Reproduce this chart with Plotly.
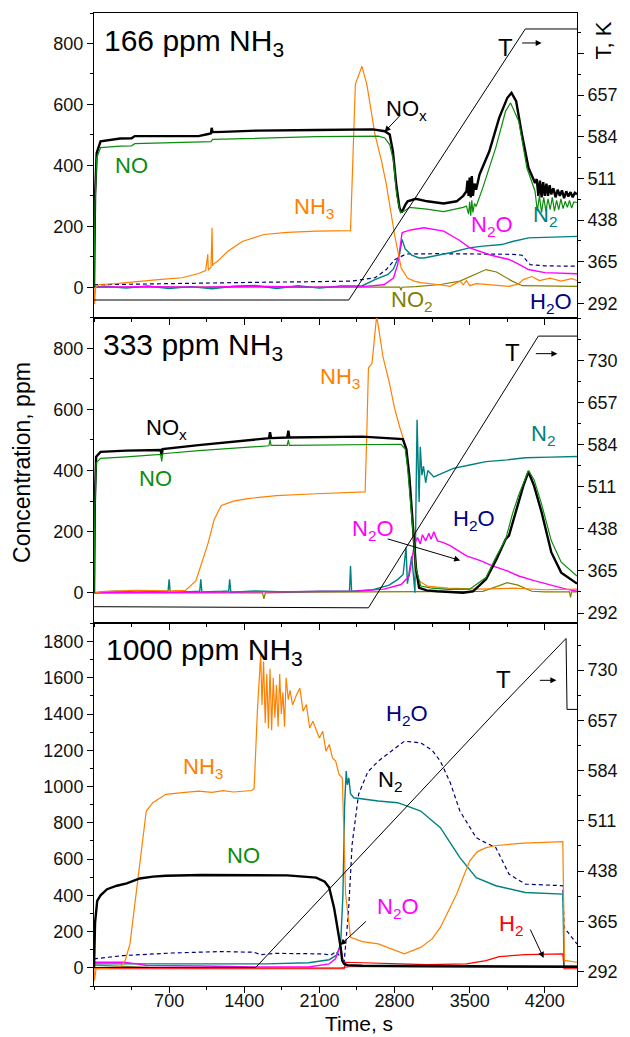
import plotly.graph_objects as go

# ---------------- DATA ----------------
# Panel 1: 166 ppm NH3
T1_t = [0, 2374, 4018, 4500]
T1_v = [298, 298, 773, 773]
NOX1_t = [0, 10, 25, 61, 244, 350, 380, 974, 1065, 1090, 1096, 1105, 1200, 1522, 2070, 2600, 2709, 2755, 2785, 2816, 2846, 2867, 2900, 2922, 2998, 3105, 3257, 3379, 3440, 3470, 3480, 3490, 3500, 3510, 3520, 3530, 3545, 3560, 3592, 3683, 3775, 3850, 3890, 3933, 3987, 4048, 4109, 4125, 4140, 4155, 4170, 4185, 4200, 4215, 4230, 4245, 4260, 4280, 4300, 4320, 4340, 4360, 4380, 4400, 4420, 4440, 4460, 4480, 4500]
NOX1_v = [0, 300, 441, 479, 488, 489, 496, 496, 503, 505, 523, 509, 510, 514, 516, 518, 512, 501, 446, 337, 260, 245, 270, 282, 290, 282, 275, 282, 300, 315, 350, 300, 360, 295, 365, 300, 340, 320, 370, 446, 556, 621, 638, 611, 501, 392, 342, 355, 300, 350, 295, 345, 300, 340, 300, 335, 305, 325, 295, 320, 300, 318, 292, 315, 298, 312, 295, 310, 305]
NO1_t = [0, 10, 25, 61, 244, 350, 380, 974, 1090, 1105, 1583, 2070, 2650, 2709, 2755, 2791, 2820, 2855, 2900, 2937, 3100, 3257, 3440, 3470, 3490, 3500, 3510, 3520, 3530, 3545, 3560, 3622, 3744, 3835, 3881, 3957, 4033, 4109, 4130, 4150, 4170, 4190, 4210, 4230, 4250, 4270, 4290, 4310, 4330, 4350, 4370, 4390, 4410, 4430, 4450, 4470, 4500]
NO1_v = [0, 280, 425, 458, 463, 464, 471, 476, 478, 485, 490, 494, 496, 490, 468, 414, 302, 244, 252, 262, 256, 248, 262, 266, 240, 280, 235, 285, 245, 275, 265, 326, 459, 578, 605, 545, 392, 315, 250, 300, 245, 295, 250, 290, 255, 295, 250, 285, 255, 290, 258, 282, 262, 285, 260, 280, 278]
NH31_t = [0, 5, 15, 50, 200, 426, 600, 822, 974, 1040, 1060, 1065, 1070, 1090, 1100, 1105, 1110, 1150, 1248, 1380, 1583, 1800, 2070, 2390, 2410, 2435, 2496, 2542, 2618, 2679, 2724, 2800, 2862, 2920, 2983, 3044, 3200, 3318, 3410, 3440, 3470, 3500, 3560, 3700, 3800, 3866, 3950, 4000, 4079, 4150, 4250, 4350, 4450, 4500]
NH31_v = [0, -56, 0, 9, 12, 20, 25, 31, 45, 55, 108, 55, 60, 65, 195, 70, 75, 85, 118, 150, 173, 180, 184, 186, 400, 666, 725, 666, 501, 414, 337, 173, 63, 30, 20, 15, 9, 3, 20, 8, 22, 5, 12, 8, 5, 3, 10, 25, 35, 22, 30, 20, 28, 22]
N2O1_t = [0, 500, 1000, 1500, 2000, 2500, 2700, 2790, 2830, 2852, 2870, 2877, 2950, 3074, 3259, 3400, 3501, 3700, 3866, 3960, 4048, 4200, 4500]
N2O1_v = [0, 2, 0, 3, 0, 2, 8, 30, 75, 140, 178, 180, 188, 195, 184, 155, 129, 105, 91, 75, 58, 48, 44]
N21_t = [0, 100, 300, 500, 700, 900, 1100, 1300, 1500, 1700, 1900, 2100, 2300, 2500, 2618, 2700, 2739, 2790, 2846, 2870, 2900, 2960, 3029, 3074, 3200, 3318, 3496, 3622, 3800, 3900, 4048, 4300, 4500]
N21_v = [0, 3, -3, 4, -4, 2, -5, 3, 6, -4, 5, -3, 4, 5, 25, 35, 42, 60, 107, 157, 125, 105, 96, 96, 105, 113, 129, 135, 140, 150, 162, 165, 167]
H2O1_t = [0, 300, 700, 1000, 1500, 2000, 2400, 2618, 2724, 2800, 2907, 3200, 3600, 3900, 3987, 4063, 4200, 4500]
H2O1_v = [8, 10, 12, 15, 16, 18, 20, 31, 58, 90, 109, 110, 109, 108, 105, 74, 70, 69]
NO21_t = [0, 2850, 2860, 2870, 3000, 3227, 3409, 3560, 3652, 3750, 3896, 3990, 4500]
NO21_v = [0, 0, -10, 0, 2, 9, 20, 45, 58, 50, 20, 5, 3]

# Panel 2: 333 ppm NH3
T2_t = [0, 2557, 4140, 4500]
T2_v = [303, 301, 773, 773]
NOX2_t = [0, 8, 20, 61, 300, 620, 631, 640, 974, 1583, 1630, 1640, 1650, 1800, 1811, 1820, 2070, 2500, 2877, 2910, 2937, 2967, 3000, 3029, 3100, 3196, 3300, 3439, 3531, 3652, 3750, 3800, 3835, 3866, 3957, 4000, 4048, 4100, 4170, 4200, 4261, 4353, 4500]
NOX2_v = [0, 300, 445, 461, 465, 467, 450, 470, 483, 505, 506, 525, 506, 508, 530, 508, 510, 511, 503, 470, 385, 242, 80, 16, 8, 5, 3, 0, 5, 44, 110, 150, 175, 187, 297, 350, 396, 350, 264, 220, 132, 66, 30]
NO2p_t = [0, 8, 20, 61, 300, 620, 631, 640, 974, 1583, 1630, 1640, 1650, 1800, 1811, 1820, 2000, 2500, 2860, 2900, 2922, 2960, 3000, 3044, 3150, 3300, 3500, 3652, 3750, 3835, 3900, 3957, 4048, 4100, 4170, 4261, 4353, 4500]
NO2p_v = [0, 280, 425, 440, 445, 453, 430, 455, 465, 480, 481, 500, 482, 482, 500, 482, 483, 484, 486, 470, 407, 250, 80, 22, 15, 11, 12, 50, 120, 175, 260, 320, 400, 370, 290, 170, 100, 55]
NH32_t = [0, 100, 400, 700, 853, 950, 1065, 1120, 1187, 1300, 1431, 1700, 2070, 2300, 2526, 2540, 2557, 2590, 2620, 2633, 2650, 2694, 2750, 2800, 2850, 2892, 2937, 2970, 2998, 3044, 3105, 3300, 3600, 3900, 4200, 4500]
NH32_v = [0, 5, 8, 6, 8, 40, 165, 240, 286, 300, 308, 318, 324, 328, 330, 500, 736, 750, 850, 905, 870, 769, 690, 604, 540, 494, 384, 200, 55, 35, 22, 15, 12, 15, 10, 12]
N22_t = [0, 200, 400, 600, 690, 700, 710, 900, 985, 995, 1005, 1200, 1255, 1264, 1275, 1500, 1800, 2100, 2380, 2390, 2400, 2600, 2750, 2831, 2880, 2907, 2920, 2960, 2990, 2998, 3010, 3029, 3040, 3055, 3070, 3090, 3110, 3166, 3348, 3500, 3652, 3850, 4018, 4250, 4500]
N22_v = [0, 5, 3, 6, 5, 44, 2, 4, 5, 44, 3, 5, 6, 44, 2, 6, 3, 5, 5, 88, 5, 10, 25, 44, 60, 148, 30, 120, 0, 250, 566, 297, 478, 385, 414, 360, 400, 379, 407, 418, 429, 435, 442, 444, 446]
N2O2_t = [0, 1000, 2000, 2435, 2700, 2862, 2937, 2983, 3000, 3014, 3040, 3060, 3090, 3120, 3140, 3166, 3200, 3250, 3318, 3400, 3470, 3600, 3713, 3850, 3957, 4100, 4231, 4400, 4500]
N2O2_v = [0, 2, 3, 5, 12, 27, 55, 154, 170, 181, 160, 190, 170, 195, 175, 200, 170, 165, 154, 135, 121, 105, 88, 72, 55, 40, 27, 12, 5]
NO22_t = [0, 1570, 1583, 1596, 2000, 3000, 3400, 3622, 3750, 3850, 3950, 4079, 4200, 4430, 4440, 4450, 4500]
NO22_v = [0, 0, -20, 0, 2, 3, 4, 5, 20, 33, 25, 5, 3, 3, -15, 3, 3]

# Panel 3: 1000 ppm NH3
T3_t = [0, 1507, 3775, 4398, 4407, 4500]
T3_v = [298, 298, 675, 776, 673, 673]
NOX3_t = [0, 10, 30, 61, 122, 213, 305, 426, 550, 670, 1000, 1430, 1800, 2070, 2150, 2191, 2237, 2260, 2283, 2298, 2313, 2329, 2360, 2500, 3000, 3500, 4000, 4500]
NOX3_v = [0, 250, 370, 400, 434, 453, 466, 493, 503, 508, 512, 513, 510, 498, 475, 443, 330, 250, 170, 113, 40, 22, 15, 12, 10, 8, 7, 6]
NH33_t = [0, 5, 20, 100, 244, 290, 335, 370, 411, 450, 487, 548, 670, 800, 974, 1100, 1200, 1300, 1431, 1470, 1492, 1522, 1553, 1565, 1580, 1595, 1610, 1625, 1640, 1655, 1670, 1685, 1700, 1715, 1730, 1745, 1760, 1775, 1790, 1810, 1826, 1850, 1887, 1918, 1948, 1979, 2009, 2039, 2100, 2131, 2161, 2192, 2222, 2252, 2283, 2313, 2330, 2344, 2390, 2500, 2648, 2800, 2892, 3044, 3150, 3227, 3300, 3379, 3440, 3501, 3570, 3653, 3750, 3866, 4000, 4200, 4368, 4383, 4400, 4500]
NH33_v = [0, -70, 0, -3, 5, 40, 132, 300, 498, 700, 865, 911, 957, 965, 975, 968, 978, 970, 975, 978, 990, 1415, 1727, 1450, 1690, 1350, 1620, 1320, 1650, 1310, 1600, 1380, 1560, 1330, 1620, 1400, 1520, 1330, 1600, 1480, 1530, 1450, 1507, 1543, 1415, 1452, 1323, 1360, 1268, 1305, 1195, 1232, 1158, 1140, 1067, 1048, 700, 407, 168, 145, 132, 95, 77, 113, 160, 223, 310, 407, 500, 590, 640, 663, 675, 682, 688, 692, 696, 40, 40, 31]
N23_t = [0, 500, 1000, 1492, 1600, 2000, 2191, 2260, 2298, 2319, 2335, 2350, 2360, 2374, 2390, 2420, 2648, 2830, 3044, 3227, 3409, 3561, 3744, 4018, 4368, 4380, 4500]
N23_v = [22, 22, 20, 18, 22, 28, 45, 70, 132, 400, 900, 1085, 1010, 1048, 960, 938, 920, 911, 865, 773, 608, 498, 453, 416, 407, 8, 8]
H2O3_t = [0, 274, 730, 1187, 1492, 1553, 1700, 2131, 2207, 2253, 2300, 2329, 2370, 2405, 2465, 2550, 2648, 2892, 3044, 3150, 3227, 3320, 3409, 3561, 3650, 3744, 3866, 4018, 4368, 4380, 4500]
H2O3_v = [50, 68, 82, 90, 86, 73, 80, 77, 70, 90, 60, 22, 300, 682, 957, 1080, 1140, 1250, 1241, 1200, 1140, 1020, 865, 718, 690, 663, 517, 462, 453, 223, 132]
N2O3_t = [0, 274, 400, 487, 1000, 1500, 2000, 2191, 2250, 2283, 2298, 2320, 2344, 2500, 3000, 4000, 4500]
N2O3_v = [31, 31, 22, 13, 10, 5, 5, 22, 50, 104, 113, 40, 13, 10, 8, 8, 8]
H23_t = [0, 2330, 2344, 2600, 3105, 3470, 3652, 3775, 4018, 4368, 4380, 4500]
H23_v = [-5, -5, 31, 27, 18, 22, 40, 62, 73, 77, -5, -5]
NO23_t = [0, 100, 300, 500, 1000, 2300, 2400, 3000, 4500]
NO23_v = [15, 12, 10, 3, 0, 0, 8, 5, 5]

X_TICKS = [700, 1400, 2100, 2800, 3500, 4200]
Y_TICKS_1 = [0, 200, 400, 600, 800]
Y_TICKS_3 = [0, 200, 400, 600, 800, 1000, 1200, 1400, 1600, 1800]
T_TICKS = [292, 365, 438, 511, 584, 657, 730]
PANEL_TITLES = ["166 ppm NH<sub>3</sub>", "333 ppm NH<sub>3</sub>", "1000 ppm NH<sub>3</sub>"]

# ---------------- STYLE ----------------
FONT = "Arial, Liberation Sans, sans-serif"
C_NOX = "#000000"
C_NO = "#0c8c0c"
C_NH3 = "#ff8000"
C_N2O = "#ff00ff"
C_N2 = "#008080"
C_H2O = "#000080"
C_NO2 = "#808000"
C_H2 = "#ff0000"

W, H = 630, 1037
L, R, T, B = 94, 44, 12, 51
PW, PH = W - L - R, H - T - B


def px(x):
    return (x - L) / PW


def py(y):
    return (H - B - y) / PH


fig = go.Figure()


def add(t, v, color, xa, ya, width=1.2, dash=None):
    fig.add_trace(go.Scatter(x=t, y=v, mode="lines", xaxis=xa, yaxis=ya,
                             line=dict(color=color, width=width, dash=dash),
                             showlegend=False, hoverinfo="skip"))


DASH = "4px,3px"
# Panel 1
add(NO21_t, NO21_v, C_NO2, "x", "y")
add(H2O1_t, H2O1_v, C_H2O, "x", "y", 1.2, DASH)
add(N21_t, N21_v, C_N2, "x", "y", 1.4)
add(N2O1_t, N2O1_v, C_N2O, "x", "y", 1.4)
add(NH31_t, NH31_v, C_NH3, "x", "y")
add(NOX1_t, NOX1_v, C_NOX, "x", "y", 2.4)
add(NO1_t, NO1_v, C_NO, "x", "y", 1.2)
add(T1_t, T1_v, "#000000", "x", "y4", 1.0)
# Panel 2
add(NO22_t, NO22_v, C_NO2, "x2", "y2")
add(N22_t, N22_v, C_N2, "x2", "y2", 1.4)
add(N2O2_t, N2O2_v, C_N2O, "x2", "y2", 1.4)
add(NH32_t, NH32_v, C_NH3, "x2", "y2")
add(NOX2_t, NOX2_v, C_NOX, "x2", "y2", 2.4)
add(NO2p_t, NO2p_v, C_NO, "x2", "y2", 1.2)
add(T2_t, T2_v, "#000000", "x2", "y5", 1.0)
# Panel 3
add(NO23_t, NO23_v, C_NO2, "x3", "y3")
add(H2O3_t, H2O3_v, C_H2O, "x3", "y3", 1.2, DASH)
add(N23_t, N23_v, C_N2, "x3", "y3", 1.4)
add(N2O3_t, N2O3_v, C_N2O, "x3", "y3", 1.4)
add(H23_t, H23_v, C_H2, "x3", "y3", 1.2)
add(NH33_t, NH33_v, C_NH3, "x3", "y3")
add(NOX3_t, NOX3_v, C_NOX, "x3", "y3", 2.4)
add(T3_t, T3_v, "#000000", "x3", "y6", 1.0)

d3 = [0, py(623)]
d2 = [py(623), py(317)]
d1 = [py(317), 1.0]

tickfont = dict(family=FONT, size=18, color="#111")
axline = dict(showline=True, linecolor="black", linewidth=1, showgrid=False, zeroline=False)


def xax(anchor, labels):
    return dict(range=[0, 4500], anchor=anchor, domain=[0, 1], tickmode="array", tickvals=X_TICKS,
                ticks="outside", ticklen=6, tickcolor="black", mirror=True,
                showticklabels=labels, tickfont=tickfont, ticklabelstandoff=-8,
                minor=dict(dtick=350, tick0=0, ticks="outside", ticklen=3, tickcolor="black"),
                **axline)


def yax(domain, rng, tv, anchor):
    return dict(range=rng, domain=domain, anchor=anchor, tickmode="array", tickvals=tv,
                ticks="outside", ticklen=6, tickcolor="black", tickfont=tickfont,
                minor=dict(dtick=100, tick0=0, ticks="outside", ticklen=3, tickcolor="black"),
                **axline)


def tax(over, rng, anchor, hide730=False):
    tt = [str(v) for v in T_TICKS]
    if hide730:
        tt[-1] = ""
    return dict(range=rng, overlaying=over, side="right", anchor=anchor, tickmode="array",
                tickvals=T_TICKS, ticktext=tt, ticks="outside", ticklen=6, tickcolor="black",
                tickfont=tickfont,
                minor=dict(dtick=36.5, tick0=292, ticks="outside", ticklen=3, tickcolor="black"),
                **axline)


fig.update_layout(
    width=W, height=H, margin=dict(l=L, r=R, t=T, b=B),
    paper_bgcolor="white", plot_bgcolor="white",
    font=dict(family=FONT, color="black"),
    xaxis=xax("y", False), xaxis2=xax("y2", False), xaxis3=xax("y3", True),
    yaxis=yax(d1, [-100, 900], Y_TICKS_1, "x"),
    yaxis2=yax(d2, [-100, 900], Y_TICKS_1, "x2"),
    yaxis3=yax(d3, [-100, 1900], Y_TICKS_3, "x3"),
    yaxis4=tax("y", [267, 801], "x", True),
    yaxis5=tax("y2", [274, 805], "x2"),
    yaxis6=tax("y3", [271, 798], "x3"),
)

ann = []


def label(text, x, y, color, size=22, angle=0):
    ann.append(dict(text=text, x=px(x), y=py(y), xref="paper", yref="paper", showarrow=False,
                    font=dict(family=FONT, size=size, color=color), textangle=angle,
                    xanchor="center", yanchor="middle"))


def arrow(x, y, ax, ay):
    ann.append(dict(text="", x=px(x), y=py(y), xref="paper", yref="paper", showarrow=True,
                    ax=ax - x, ay=ay - y, axref="pixel", ayref="pixel",
                    arrowhead=2, arrowsize=1.2, arrowwidth=1, arrowcolor="black"))


# panel titles
label(PANEL_TITLES[0], 196, 42, "black", 30)
label(PANEL_TITLES[1], 195, 346, "black", 30)
label(PANEL_TITLES[2], 207, 651, "black", 30)

# Panel 1 labels
label("NO", 132, 165, C_NO)
label("NO<sub>x</sub>", 412, 109, "black")
label("NH<sub>3</sub>", 318, 207, C_NH3)
label("N<sub>2</sub>O", 499, 225, C_N2O)
label("N<sub>2</sub>", 553, 215, C_N2)
label("NO<sub>2</sub>", 418, 300, C_NO2)
label("H<sub>2</sub>O", 560, 302, C_H2O)
label("T", 513, 47, "black", 24)
arrow(390, 131, 407, 113)
arrow(550, 42, 529, 42)

# Panel 2 labels
label("NO<sub>x</sub>", 168, 428, "black")
label("NO", 157, 478, C_NO)
label("NH<sub>3</sub>", 345, 377, C_NH3)
label("N<sub>2</sub>", 551, 434, C_N2)
label("N<sub>2</sub>O", 378, 530, C_N2O)
label("H<sub>2</sub>O", 481, 520, C_H2O)
label("T", 520, 352, "black", 24)
arrow(467, 560, 393, 538)
arrow(566, 353, 543, 353)

# Panel 3 labels
label("NH<sub>3</sub>", 205, 768, C_NH3)
label("NO", 246, 855, C_NO)
label("H<sub>2</sub>O", 413, 715, C_H2O)
label("N<sub>2</sub>", 396, 781, "black")
label("N<sub>2</sub>O", 404, 908, C_N2O)
label("H<sub>2</sub>", 519, 925, C_H2)
label("T", 511, 679, "black", 24)
arrow(345, 945, 372, 920)
arrow(552, 958, 538, 928)
arrow(565, 680, 547, 680)

# axis titles
label("Concentration, ppm", 20, 462, "black", 23, -90)
label("Time, s", 364, 1024, "black", 21)
label("T, K", 613, 40, "black", 22, -90)

fig.update_layout(annotations=ann)
fig.write_html("out.html")
